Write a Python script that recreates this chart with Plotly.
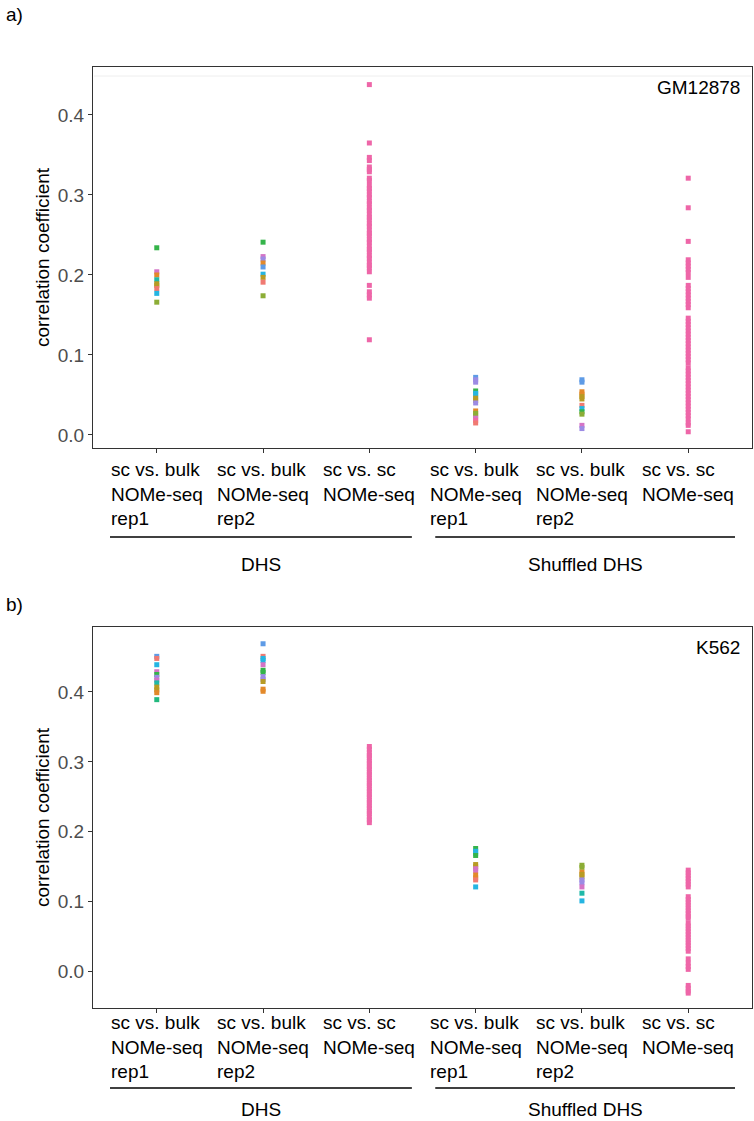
import plotly.graph_objects as go

# ---------------- data ----------------
categories = ["sc vs. bulk<br>NOMe-seq<br>rep1", "sc vs. bulk<br>NOMe-seq<br>rep2", "sc vs. sc<br>NOMe-seq",
              "sc vs. bulk<br>NOMe-seq<br>rep1", "sc vs. bulk<br>NOMe-seq<br>rep2", "sc vs. sc<br>NOMe-seq"]
groups = ["DHS", "Shuffled DHS"]
y_ticks = [0.0, 0.1, 0.2, 0.3, 0.4]
y_tick_labels = ["0.0", "0.1", "0.2", "0.3", "0.4"]

# hue colours (ggplot-like)
RED, ORA, OLI, YGR, GRN, EME, TEA, CYA, BLU, PUR, MAG, PNK = (
    "#F07A72", "#E3892A", "#B89B24", "#8CAD36", "#35B44A", "#22B97E",
    "#1FB9A8", "#25B5E2", "#5E9BE6", "#9C8BE4", "#D474C6", "#F26AA6")
SCSC = "#EE66A8"

# panel a (GM12878)
a_c1 = [0.234, 0.204, 0.200, 0.194, 0.189, 0.187, 0.183, 0.177, 0.166]
a_c1_col = [GRN, MAG, ORA, TEA, OLI, OLI, RED, CYA, YGR]
a_c2 = [0.241, 0.223, 0.220, 0.215, 0.210, 0.201, 0.197, 0.191, 0.174]
a_c2_col = [GRN, MAG, PUR, ORA, BLU, CYA, OLI, RED, YGR]
a_c3 = [0.438, 0.365, 0.347, 0.343, 0.335, 0.332, 0.329, 0.321, 0.318,
        0.312, 0.308, 0.305, 0.300, 0.297, 0.292, 0.289, 0.284, 0.281, 0.276,
        0.272, 0.269, 0.264, 0.261, 0.256, 0.252, 0.249, 0.244, 0.241, 0.236,
        0.232, 0.229, 0.224, 0.221, 0.216, 0.212, 0.209, 0.204,
        0.187, 0.179, 0.175, 0.171, 0.119]
a_c4 = [0.072, 0.069, 0.066, 0.055, 0.052, 0.049, 0.046, 0.043, 0.040,
        0.030, 0.027, 0.024, 0.021, 0.018, 0.015]
a_c4_col = [BLU, PUR, PUR, GRN, CYA, CYA, OLI, OLI, PUR, ORA, YGR, YGR, MAG, PNK, RED]
a_c5 = [0.069, 0.066, 0.054, 0.051, 0.048, 0.045, 0.037, 0.033, 0.029, 0.026, 0.012, 0.008]
a_c5_col = [BLU, BLU, ORA, ORA, OLI, OLI, RED, CYA, GRN, YGR, MAG, PUR]
a_c6 = [0.321, 0.284, 0.242, 0.219, 0.215, 0.211, 0.207, 0.203, 0.197,
        0.187, 0.183, 0.179, 0.175, 0.171, 0.167, 0.163, 0.159,
        0.146, 0.142, 0.138, 0.134, 0.130, 0.126, 0.122, 0.118, 0.114, 0.110,
        0.106, 0.102, 0.098, 0.094, 0.090, 0.084, 0.080, 0.076, 0.072, 0.068,
        0.064, 0.060, 0.056, 0.052, 0.048, 0.044, 0.040, 0.036, 0.032, 0.028,
        0.024, 0.020, 0.015, 0.012, 0.004]

# panel b (K562)
b_c1 = [0.451, 0.448, 0.439, 0.429, 0.425, 0.421, 0.417, 0.413, 0.407, 0.403, 0.399, 0.389]
b_c1_col = [BLU, RED, CYA, MAG, GRN, PUR, MAG, TEA, OLI, OLI, ORA, EME]
b_c2 = [0.469, 0.451, 0.448, 0.445, 0.439, 0.431, 0.428, 0.422, 0.418, 0.415, 0.404, 0.401]
b_c2_col = [BLU, RED, CYA, CYA, MAG, GRN, GRN, PUR, PUR, OLI, ORA, ORA]
b_c3 = [0.322, 0.318, 0.313, 0.309, 0.306, 0.301, 0.298, 0.293, 0.290, 0.285,
        0.282, 0.277, 0.274, 0.269, 0.266, 0.261, 0.258, 0.253, 0.250, 0.245,
        0.242, 0.237, 0.234, 0.229, 0.226, 0.221, 0.217, 0.213]
b_c4 = [0.176, 0.172, 0.169, 0.166, 0.153, 0.150, 0.147, 0.144, 0.138, 0.134, 0.131, 0.121]
b_c4_col = [GRN, CYA, CYA, GRN, OLI, OLI, MAG, MAG, ORA, ORA, RED, CYA]
b_c5 = [0.152, 0.149, 0.142, 0.139, 0.135, 0.131, 0.127, 0.121, 0.112, 0.101]
b_c5_col = [YGR, YGR, ORA, OLI, OLI, PUR, PUR, MAG, TEA, CYA]
b_c6 = [0.145, 0.141, 0.137, 0.133, 0.129, 0.125, 0.121,
        0.107, 0.103, 0.099, 0.095, 0.091, 0.087, 0.083, 0.079, 0.076,
        0.069, 0.065, 0.061, 0.057, 0.053, 0.049, 0.045, 0.041, 0.037, 0.033, 0.029,
        0.018, 0.012, 0.007, 0.003, -0.020, -0.024, -0.028, -0.031]

panels = [
    dict(cols=[a_c1, a_c2, a_c3, a_c4, a_c5, a_c6],
         colors=[a_c1_col, a_c2_col, None, a_c4_col, a_c5_col, None],
         cell="GM12878", tag="a)", yrange=[-0.0163, 0.46],
         lab_off=9, br_off=89, grp_off=104, tag_y=2),
    dict(cols=[b_c1, b_c2, b_c3, b_c4, b_c5, b_c6],
         colors=[b_c1_col, b_c2_col, None, b_c4_col, b_c5_col, None],
         cell="K562", tag="b)", yrange=[-0.0523, 0.493],
         lab_off=2, br_off=80, grp_off=89, tag_y=592),
]

# ---------------- layout geometry (pixels) ----------------
W, H = 754, 1121
FONT = "Liberation Sans, Arial, Helvetica, sans-serif"
FS = 19
box_left, box_right = 93, 752
box_tops = [67, 627]
box_h = 381


def py(pix):
    return 1 - pix / H


fig = go.Figure()
annotations = []
shapes = []

# faint rule just under the top border of panel a (as in the source image)
shapes.append(dict(type="line", xref="paper", yref="paper",
                   x0=(box_left + 1) / W, x1=(box_right - 1) / W,
                   y0=py(76), y1=py(76), line=dict(color="#EEEEEE", width=1)))

for i, p in enumerate(panels):
    xa = "x" if i == 0 else "x2"
    ya = "y" if i == 0 else "y2"
    for j, vals in enumerate(p["cols"]):
        cols = p["colors"][j] if p["colors"][j] is not None else [SCSC] * len(vals)
        fig.add_trace(go.Scatter(
            x=[j + 1] * len(vals), y=vals, mode="markers", xaxis=xa, yaxis=ya,
            marker=dict(symbol="square", size=5, color=cols, line=dict(width=0)),
            showlegend=False, hoverinfo="y"))

    top = box_tops[i]
    bottom = top + box_h
    axis_common = dict(showgrid=False, zeroline=False, showline=True, mirror=True,
                       linecolor="#333333", linewidth=1, ticks="outside", ticklen=4,
                       tickcolor="#333333")
    xkey = "xaxis" if i == 0 else "xaxis2"
    ykey = "yaxis" if i == 0 else "yaxis2"
    fig.update_layout(**{
        xkey: dict(domain=[box_left / W, box_right / W], range=[0.4, 6.6],
                   tickvals=[1, 2, 3, 4, 5, 6], showticklabels=False,
                   anchor=ya, **axis_common),
        ykey: dict(domain=[py(bottom), py(top)], range=p["yrange"],
                   tickvals=y_ticks, ticktext=y_tick_labels,
                   tickfont=dict(family=FONT, size=FS, color="#4D4D4D"),
                   title=dict(text="correlation coefficient", standoff=3,
                              font=dict(family=FONT, size=FS, color="black")),
                   anchor=xa, **axis_common),
    })

    # category labels
    for j, lab in enumerate(categories):
        annotations.append(dict(
            x=j + 1, xref=xa, y=py(bottom + p["lab_off"]), yref="paper", text=lab,
            showarrow=False, xanchor="center", yanchor="top", align="left",
            font=dict(family=FONT, size=FS, color="black")))
    # group brackets
    bracket_y = py(bottom + p["br_off"])
    for (x0, x1), g in zip([(0.56, 3.40), (3.62, 6.44)], groups):
        shapes.append(dict(type="line", xref=xa, yref="paper", x0=x0, x1=x1,
                           y0=bracket_y, y1=bracket_y, line=dict(color="black", width=1.3)))
        annotations.append(dict(
            x=(x0 + x1) / 2, xref=xa, y=py(bottom + p["grp_off"]), yref="paper", text=g,
            showarrow=False, xanchor="center", yanchor="top",
            font=dict(family=FONT, size=FS, color="black")))
    # cell line label
    annotations.append(dict(
        x=box_right / W - 0.013, xref="paper", y=py(top + 8), yref="paper",
        text=p["cell"], showarrow=False, xanchor="right", yanchor="top",
        font=dict(family=FONT, size=FS, color="black")))
    # panel tag
    annotations.append(dict(
        x=0.005, xref="paper", y=py(p["tag_y"]), yref="paper", text=p["tag"],
        showarrow=False, xanchor="left", yanchor="top",
        font=dict(family=FONT, size=FS, color="black")))

fig.update_layout(
    width=W, height=H, margin=dict(l=0, r=0, t=0, b=0),
    paper_bgcolor="white", plot_bgcolor="white",
    annotations=annotations, shapes=shapes,
    font=dict(family=FONT, size=FS),
)

fig.write_html("out.html", config={"displayModeBar": False},
               post_script="document.body.style.margin='0';document.body.style.overflow='hidden';")
